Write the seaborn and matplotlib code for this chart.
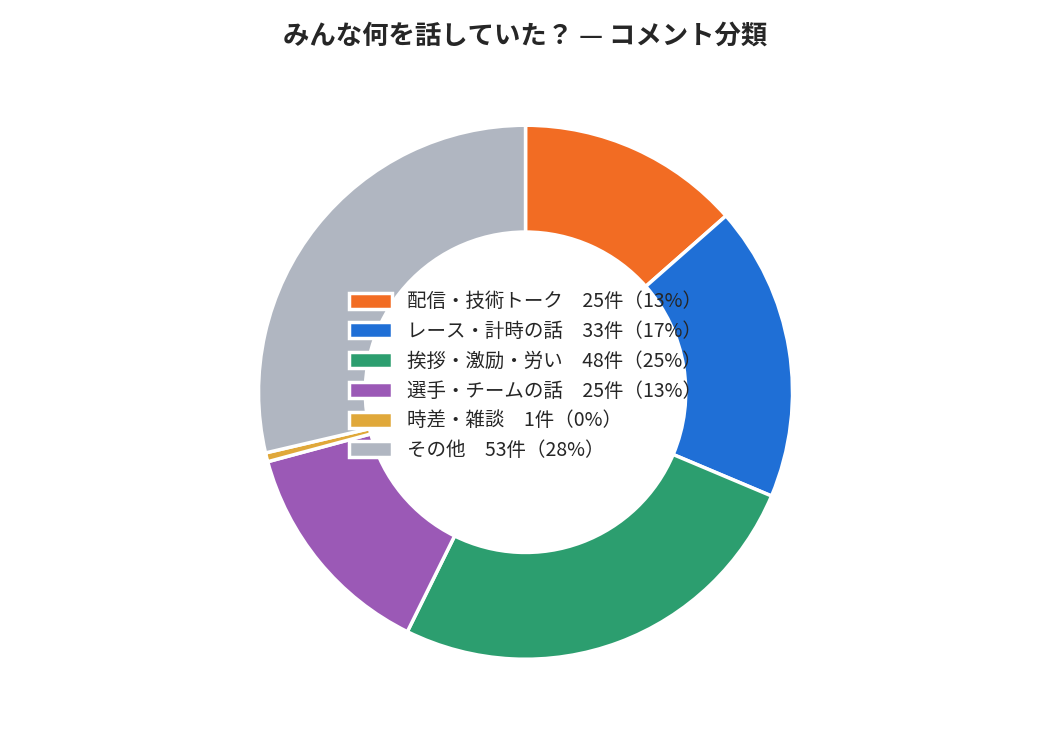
import matplotlib
matplotlib.use("Agg")
import matplotlib.pyplot as plt
import seaborn as sns

sns.set_theme(style="white")
plt.rcParams['font.family'] = ['Noto Sans CJK JP', 'DejaVu Sans']

categories = ['配信・技術トーク', 'レース・計時の話', '挨拶・激励・労い', '選手・チームの話', '時差・雑談', 'その他']
counts = [25, 33, 48, 25, 1, 53]
pct_labels = ['13%', '17%', '25%', '13%', '0%', '28%']
colors = ['#f26c23', '#1f6fd6', '#2c9e6f', '#9b59b6', '#e0a83a', '#b0b6c1']

fig = plt.figure(figsize=(10.5, 7.5), dpi=100)
ax = fig.add_axes([0.246, 0.121, 0.509, 0.712])
wedges, _ = ax.pie(counts, colors=colors, startangle=90, counterclock=False,
                   radius=1, wedgeprops=dict(width=0.4, edgecolor='white', linewidth=2.5))
ax.set_xlim(-1, 1)
ax.set_ylim(-1, 1)
ax.set_aspect('equal')
ax.axis('off')

labels = [f'{c}\u3000{n}件（{p}）' for c, n, p in zip(categories, counts, pct_labels)]
leg = ax.legend(wedges, labels, loc='center', frameon=False, fontsize=14,
                handlelength=2.2, handleheight=0.9, labelspacing=0.45,
                bbox_to_anchor=(0.5, 0.53))
fig.text(0.5, 0.952, 'みんな何を話していた？ — コメント分類', ha='center', va='center',
         fontsize=19, fontweight='bold')
fig.savefig('out.png', dpi=100)
